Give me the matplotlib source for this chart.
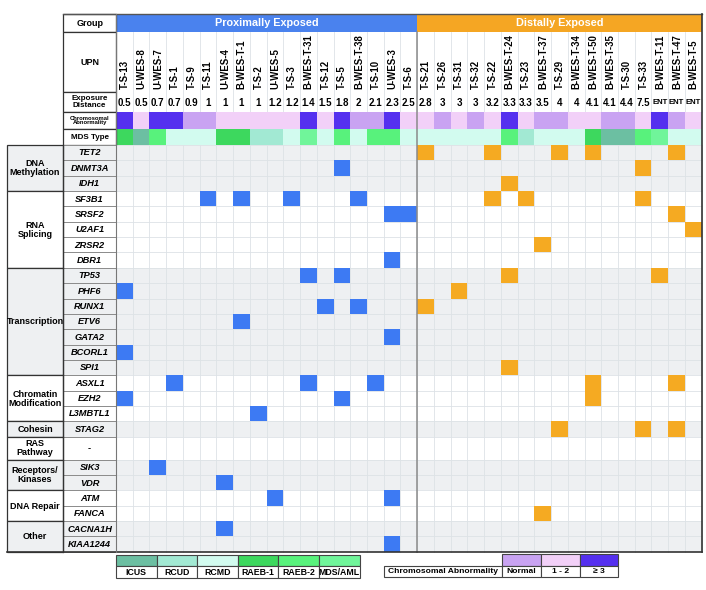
import matplotlib
matplotlib.use('Agg')
import matplotlib.pyplot as plt
from matplotlib.patches import Rectangle

plt.rcParams['font.family'] = ['Liberation Sans', 'DejaVu Sans']

# ---- data ----
upn_proximal = ['T-S-13', 'U-WES-8', 'U-WES-7', 'T-S-1', 'T-S-9', 'T-S-11', 'U-WES-4',
                'B-WES-T-1', 'T-S-2', 'U-WES-5', 'T-S-3', 'B-WES-T-31', 'T-S-12', 'T-S-5',
                'B-WES-T-38', 'T-S-10', 'U-WES-3', 'T-S-6']
dist_proximal = ['0.5', '0.5', '0.7', '0.7', '0.9', '1', '1', '1', '1', '1.2', '1.2',
                 '1.4', '1.5', '1.8', '2', '2.1', '2.3', '2.5']
upn_distal = ['T-S-21', 'T-S-26', 'T-S-31', 'T-S-32', 'T-S-22', 'B-WES-T-24', 'T-S-23',
              'B-WES-T-37', 'T-S-29', 'B-WES-T-34', 'B-WES-T-50', 'B-WES-T-35', 'T-S-30',
              'T-S-33', 'B-WES-T-11', 'B-WES-T-47', 'B-WES-T-5']
dist_distal = ['2.8', '3', '3', '3', '3.2', '3.3', '3.3', '3.5', '4', '4', '4.1', '4.1',
               '4.4', '7.5', 'ENT', 'ENT', 'ENT']

# chromosomal abnormality: 0 normal, 1 "1-2", 2 ">=3"
chrom = [2, 1, 2, 2, 0, 0, 1, 1, 1, 1, 1, 2, 1, 2, 0, 0, 2, 1,
         1, 0, 1, 0, 1, 2, 1, 0, 0, 1, 1, 0, 0, 1, 2, 0, 1]
mds = ['RAEB-1', 'ICUS', 'RAEB-2', 'RCMD', 'RCMD', 'RCMD', 'RAEB-1', 'RAEB-1', 'RCUD',
       'RCUD', 'RCMD', 'MDS/AML', 'RCMD', 'RAEB-2', 'RCMD', 'RAEB-2', 'RAEB-2', 'RCMD',
       'RCMD', 'RCMD', 'RCMD', 'RCMD', 'RCMD', 'RAEB-2', 'RCUD', 'RCMD', 'RCMD', 'RCMD',
       'RAEB-1', 'ICUS', 'ICUS', 'RAEB-2', 'MDS/AML', 'RCMD', 'RCMD']

categories = ['DNA\nMethylation', 'RNA\nSplicing', 'Transcription', 'Chromatin\nModification',
              'Cohesin', 'RAS\nPathway', 'Receptors/\nKinases', 'DNA Repair', 'Other']
cat_genes = [['TET2', 'DNMT3A', 'IDH1'],
             ['SF3B1', 'SRSF2', 'U2AF1', 'ZRSR2', 'DBR1'],
             ['TP53', 'PHF6', 'RUNX1', 'ETV6', 'GATA2', 'BCORL1', 'SPI1'],
             ['ASXL1', 'EZH2', 'L3MBTL1'],
             ['STAG2'],
             ['-'],
             ['SIK3', 'VDR'],
             ['ATM', 'FANCA'],
             ['CACNA1H', 'KIAA1244']]

# mutated sample column indices per gene (0-17 proximal, 18-34 distal)
mutations = {
    'TET2': [18, 22, 26, 28, 33],
    'DNMT3A': [13, 31],
    'IDH1': [23],
    'SF3B1': [5, 7, 10, 14, 22, 24, 31],
    'SRSF2': [16, 17, 33],
    'U2AF1': [34],
    'ZRSR2': [25],
    'DBR1': [16],
    'TP53': [11, 13, 23, 32],
    'PHF6': [0, 20],
    'RUNX1': [12, 14, 18],
    'ETV6': [7],
    'GATA2': [16],
    'BCORL1': [0],
    'SPI1': [23],
    'ASXL1': [3, 11, 15, 28, 33],
    'EZH2': [0, 13, 28],
    'L3MBTL1': [8],
    'STAG2': [26, 31, 33],
    'SIK3': [2],
    'VDR': [6],
    'ATM': [9, 16],
    'FANCA': [25],
    'CACNA1H': [6],
    'KIAA1244': [16],
}

mds_types = ['ICUS', 'RCUD', 'RCMD', 'RAEB-1', 'RAEB-2', 'MDS/AML']
mds_colors = ['#6cbfa2', '#a2e9d3', '#d2fbef', '#3dd85e', '#58f27c', '#70f59a']
chrom_labels = ['Normal', '1 - 2', '\u2265 3']
chrom_colors = ['#c9a3f2', '#f2d0f8', '#5530ef']

blue = '#3d7af3'
orange = '#f5aa22'
gray_bg = '#eef0f2'
grid_c = '#dde2e6'
edge = '#333333'

# ---- layout (pixel space) ----
upn = upn_proximal + upn_distal
dist = dist_proximal + dist_distal
n = len(upn)
n_prox = len(upn_proximal)
X0, X1 = 116.0, 701.7
CW = (X1 - X0) / n
XL0, XL1 = 6.7, 63.3
Y_grp, Y_upn, Y_exp, Y_chr, Y_mds, Y_dat = 14, 32, 92, 112, 128.5, 145
RH = 15.35

fig = plt.figure(figsize=(7.06, 5.90), dpi=100)
ax = fig.add_axes([0, 0, 1, 1])
ax.set_xlim(0, 706)
ax.set_ylim(590, 0)
ax.axis('off')

def cx(i):
    return X0 + i * CW

# row positions
row_top = {}
cat_span = []
y = Y_dat
for k, genes in enumerate(cat_genes):
    y_start = y
    for g in genes:
        h = RH * 1.5 if g == '-' else RH
        row_top[g] = (y, h)
        y += h
    cat_span.append((y_start, y))
Y_end = y

# backgrounds per category
for k, (ya, yb) in enumerate(cat_span):
    fc = gray_bg if k % 2 == 0 else 'white'
    ax.add_patch(Rectangle((XL0, ya), X1 - XL0, yb - ya, fc=fc, ec='none', zorder=0))

# grid lines
for i in range(n + 1):
    ax.plot([cx(i), cx(i)], [Y_upn, Y_chr], color=grid_c, lw=0.6, zorder=1)
    ax.plot([cx(i), cx(i)], [Y_dat, Y_end], color=grid_c, lw=0.6, zorder=1)
for g, (yt, h) in row_top.items():
    ax.plot([X0, X1], [yt, yt], color=grid_c, lw=0.6, zorder=1)

# mutation cells
for g, cols in mutations.items():
    yt, h = row_top[g]
    for c in cols:
        ax.add_patch(Rectangle((cx(c), yt), CW, h, fc=blue if c < n_prox else orange,
                               ec='none', zorder=2))

# header bands
ax.add_patch(Rectangle((X0, Y_grp), n_prox * CW, Y_upn - Y_grp, fc='#4a82ee', ec='none', zorder=2))
ax.add_patch(Rectangle((cx(n_prox), Y_grp), (n - n_prox) * CW, Y_upn - Y_grp, fc='#f5a623', ec='none', zorder=2))
ax.text(X0 + n_prox * CW / 2, (Y_grp + Y_upn) / 2 + 0.5, 'Proximally Exposed', color='white',
        fontsize=7.8, fontweight='bold', ha='center', va='center', zorder=3)
ax.text(cx(n_prox) + (n - n_prox) * CW / 2, (Y_grp + Y_upn) / 2 + 0.5, 'Distally Exposed', color='white',
        fontsize=7.8, fontweight='bold', ha='center', va='center', zorder=3)

# UPN labels, distances, chrom & MDS cells
chrom_map = dict(zip(range(3), chrom_colors))
mds_map = dict(zip(mds_types, mds_colors))
for i in range(n):
    ax.text(cx(i) + CW / 2 + 0.3, Y_exp - 3, upn[i], rotation=90, fontsize=6.9,
            fontweight='bold', ha='center', va='bottom', zorder=3)
    fs = 5.6 if dist[i] == 'ENT' else 7
    ax.text(cx(i) + CW / 2, (Y_exp + Y_chr) / 2 + 0.5, dist[i], fontsize=fs,
            fontweight='bold', ha='center', va='center', zorder=3)
    ax.add_patch(Rectangle((cx(i), Y_chr), CW, Y_mds - Y_chr, fc=chrom_map[chrom[i]],
                           ec='none', zorder=2))
    ax.add_patch(Rectangle((cx(i), Y_mds), CW, Y_dat - Y_mds, fc=mds_map[mds[i]],
                           ec='none', zorder=2))

# divider between groups
ax.plot([cx(n_prox), cx(n_prox)], [Y_upn, Y_end], color='#8a8a8a', lw=1.1, zorder=4)

# left header labels
head_rows = [(Y_grp, Y_upn, 'Group', 6.5), (Y_upn, Y_exp, 'UPN', 6.5),
             (Y_exp, Y_chr, 'Exposure\nDistance', 5.8), (Y_chr, Y_mds, 'Chromosomal\nAbnormality', 4.2),
             (Y_mds, Y_dat, 'MDS Type', 5.8)]
for ya, yb, lab, fs in head_rows:
    ax.add_patch(Rectangle((XL1, ya), X0 - XL1, yb - ya, fc='white', ec=edge, lw=0.9, zorder=3))
    ax.text((XL1 + X0) / 2, (ya + yb) / 2 + 0.3, lab, fontsize=fs, fontweight='bold',
            ha='center', va='center', linespacing=0.95, zorder=4)

# gene and category labels
for k, genes in enumerate(cat_genes):
    fc = gray_bg if k % 2 == 0 else 'white'
    for g in genes:
        yt, h = row_top[g]
        ax.add_patch(Rectangle((XL1, yt), X0 - XL1, h, fc=fc, ec='#8c8c8c', lw=0.7, zorder=3))
        ax.text((XL1 + X0) / 2, yt + h / 2 + 0.3, g, fontsize=6.7, fontweight='bold',
                fontstyle='normal' if g == '-' else 'italic', ha='center', va='center', zorder=4)
    ya, yb = cat_span[k]
    ax.add_patch(Rectangle((XL0, ya), XL1 - XL0, yb - ya, fc=fc, ec=edge, lw=0.9, zorder=3))
    ax.text((XL0 + XL1) / 2, (ya + yb) / 2 + 0.3, categories[k], fontsize=6.5, fontweight='bold',
            ha='center', va='center', linespacing=1.0, zorder=4)
    ax.plot([XL1, XL1], [ya, yb], color=edge, lw=0.9, zorder=5)

# outer frame
ax.plot([XL1, X1], [Y_grp, Y_grp], color='#555555', lw=1.0, zorder=5)
ax.plot([X1, X1], [Y_grp, Y_end], color=edge, lw=1.2, zorder=5)
ax.plot([XL0, X1], [Y_end, Y_end], color=edge, lw=1.2, zorder=5)
ax.plot([X0, X0], [Y_grp, Y_end], color='#777777', lw=0.8, zorder=5)

# MDS legend
lw_box = (359.7 - X0) / len(mds_types)
for i, (t, c) in enumerate(zip(mds_types, mds_colors)):
    x = X0 + i * lw_box
    ax.add_patch(Rectangle((x, 555), lw_box, 11, fc=c, ec='#444444', lw=0.8, zorder=3))
    ax.add_patch(Rectangle((x, 566), lw_box, 12, fc='white', ec='#444444', lw=0.8, zorder=3))
    ax.text(x + lw_box / 2, 572.3, t, fontsize=6.3, fontweight='bold', ha='center', va='center', zorder=4)

# chromosomal abnormality legend
ax.add_patch(Rectangle((384, 565.7), 118.3, 11, fc='white', ec='#444444', lw=0.8, zorder=3))
ax.text(384 + 118.3 / 2, 571.5, 'Chromosomal Abnormality', fontsize=6.1, fontweight='bold',
        ha='center', va='center', zorder=4)
cb = 38.7
for i, (t, c) in enumerate(zip(chrom_labels, chrom_colors)):
    x = 502.3 + i * cb
    ax.add_patch(Rectangle((x, 554), cb, 11.7, fc=c, ec='#444444', lw=0.8, zorder=3))
    ax.add_patch(Rectangle((x, 565.7), cb, 11, fc='white', ec='#444444', lw=0.8, zorder=3))
    ax.text(x + cb / 2, 571.5, t, fontsize=6.1, fontweight='bold', ha='center', va='center', zorder=4)

fig.savefig('out.png', dpi=100)
